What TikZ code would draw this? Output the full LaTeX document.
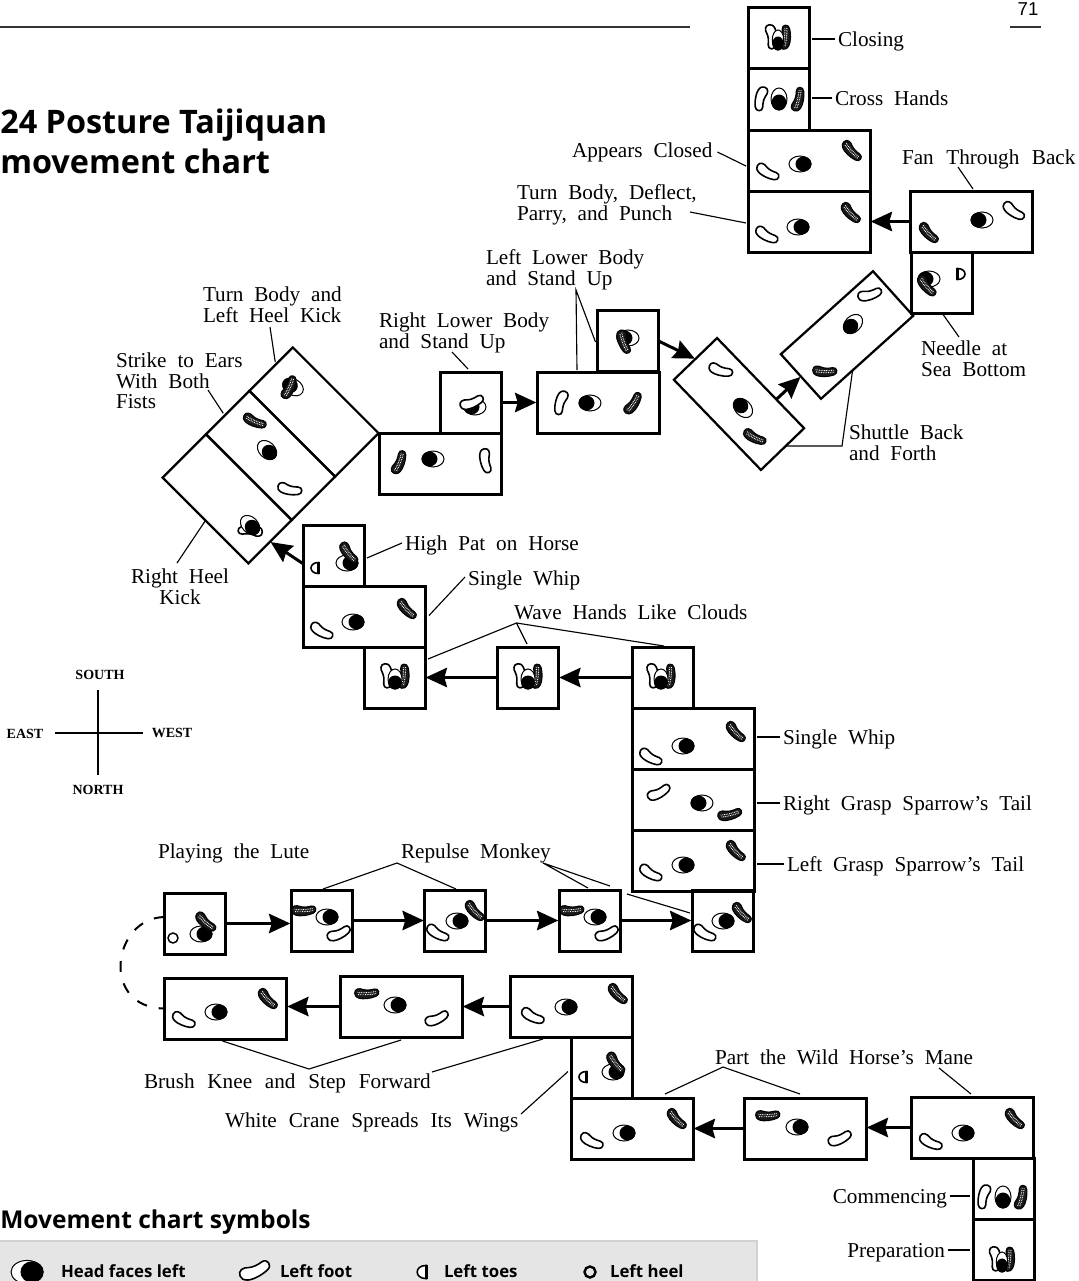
\documentclass[tikz,border=0pt]{standalone}
\usepackage{fontspec}
\setmainfont[WordSpace=2.05]{Liberation Serif}
\newfontfamily\bsans{Open Sans}
\newfontfamily\psans{Liberation Sans}
\usetikzlibrary{arrows.meta}
\def\footpath{(-12,-3) .. controls (-11,-7.5) and (-6,-7) .. (-3,-4.5) .. controls (0,-2.5) and (4,-2) .. (8,-2) .. controls (13,-2) and (13,5) .. (8,5.5) .. controls (2,6.5) and (-6,5) .. (-9,3) .. controls (-12,1) and (-12.5,-1) .. (-12,-3) -- cycle}
\tikzset{
  sqbox/.style={draw,line width=2.25pt,minimum size=45.75pt,inner sep=0pt,outer sep=0pt},
  recbox/.style={draw,line width=2.25pt,minimum width=91.5pt,minimum height=45.75pt,inner sep=0pt,outer sep=0pt},
  tilted/.style={draw,line width=1.7pt,minimum width=#1,minimum height=46pt,inner sep=0pt,outer sep=0pt},
  arr/.style={line width=2.25pt,-{Stealth[length=16pt,width=14.5pt,inset=2pt]},shorten >=.5pt},
  leader/.style={line width=.85pt},
  lbl/.style={inner sep=0pt,outer sep=0pt,font=\fontsize{15.9}{15.4}\selectfont,text height=12pt,text depth=1pt},
  mlbl/.style={inner sep=0pt,outer sep=0pt,font=\fontsize{15.9}{15.4}\selectfont,align=left},
  cmp/.style={inner sep=0pt,outer sep=0pt,font=\fontsize{10.5}{12}\selectfont\bfseries},
  leg/.style={inner sep=0pt,outer sep=0pt,font=\fontsize{12.6}{16}\bsans\bfseries\selectfont,anchor=west,text height=10pt,text depth=2pt},
  ttl/.style={inner sep=0pt,anchor=west,font=\fontsize{24.3}{30}\bsans\bfseries\selectfont,text height=22pt,text depth=3pt},
  hd/.pic={\draw[line width=.75pt,fill=white] (0,0) ellipse (11 and 8);
           \fill[black] (3.5,0) ellipse (8 and 7.4);},
  lft/.pic={\draw[line width=1.2pt,fill=white,line join=round] \footpath;},
  rft/.pic={\draw[line width=.8pt,fill=black!90,line join=round] \footpath;
            \draw[white,line width=.7pt,dash pattern=on .6pt off .7pt] (-9,-3) .. controls (-4,-1) and (3,.6) .. (9,.8);
            \draw[white,line width=.7pt,dash pattern=on .6pt off .7pt] (-9,-.8) .. controls (-4,1) and (3,2.6) .. (9,2.8);},
  toe/.pic={\draw[line width=1.2pt,fill=white] (-3.5,-5.5) .. controls (6.5,-5.5) and (6.5,5.5) .. (-3.5,5.5) -- cycle;
            \draw[line width=2pt] (-3.5,-6) -- (-3.5,6);},
  feetup/.pic={
     \pic[rotate=-96,yscale=-1] at (-8.5,-1) {lft};
     \pic[rotate=96] at (8.5,-1) {rft};
     \draw[line width=.75pt,fill=white] (0,2) ellipse (7 and 10);
     \fill[black] (0,5.5) ellipse (7 and 7);},
}
\newcommand\LF[3]{\pic[rotate=#3] at (#1,#2) {lft};}
\newcommand\RF[3]{\pic[rotate=#3] at (#1,#2) {rft};}
\newcommand\HD[3]{\pic[rotate=#3] at (#1,#2) {hd};}
\newcommand\TOE[3]{\pic[rotate=#3] at (#1,#2) {toe};}
\newcommand\TOG[3]{\pic[xscale=#3] at (#1,#2) {feetup};}
\begin{document}
\begin{tikzpicture}[x=.75pt,y=-.75pt]
\useasboundingbox (0,0) rectangle (1078,1281);
\clip (0,0) rectangle (1078,1281);
\fill[white] (0,0) rectangle (1078,1281);
% page furniture
\draw[line width=.8pt,black!80] (0,27) -- (690,27);
\draw[line width=.8pt,black!80] (1010,27) -- (1041,27);
\node[inner sep=0pt,font=\fontsize{14}{15}\psans\selectfont] (pageno) at (1028,9) {71};
\node[ttl] (title1) at (0,121) {24 Posture Taijiquan};
\node[ttl] (title2) at (0,161) {movement chart};
% legend
\node[inner sep=0pt,anchor=west,font=\fontsize{18.4}{20}\bsans\bfseries\selectfont,text height=16pt,text depth=2pt] (legtitle) at (0,1219) {Movement chart symbols};
\draw[line width=1.5pt,black!18,fill=black!10] (-5,1241) rectangle (757,1300);
\pic[scale=1.45] at (27,1272) {hd};
\pic[rotate=36,scale=1.3] at (255,1270) {lft};
\pic[rotate=180,scale=1.2] at (422,1272) {toe};
\draw[line width=1.8pt] (590,1272) circle (5.5);
\node[leg] (leg1) at (61,1272) {Head faces left};
\node[leg] (leg2) at (280,1272) {Left foot};
\node[leg] (leg3) at (444,1272) {Left toes};
\node[leg] (leg4) at (610,1272) {Left heel};
% compass
\node[cmp] (south) at (100,675) {SOUTH};
\node[cmp] (north) at (98,790) {NORTH};
\node[cmp] (east) at (25,734) {EAST};
\node[cmp] (west) at (172,733) {WEST};
\draw[line width=1.5pt] (98,690) -- (98,775);
\draw[line width=1.5pt] (55,733) -- (143,733);
% boxes
\node[sqbox] (bClosing) at (778.5,38.5) {};
\node[sqbox] (bCross) at (778.5,99.5) {};
\node[recbox] (bAppears) at (809,160.5) {};
\node[recbox] (bTurn) at (809,221.5) {};
\node[recbox] (bFan) at (971.5,221.5) {};
\node[sqbox] (bNeedle) at (942,282.5) {};
\node[tilted=93pt,minimum height=45pt,rotate=42] (bShuttleUp) at (847,335) {};
\node[tilted=94pt,minimum height=45pt,rotate=-46] (bShuttleLow) at (739,404) {};
\node[sqbox] (bLLsq) at (628,341) {};
\node[recbox] (bLLrect) at (598,402.5) {};
\node[sqbox] (bRLsq) at (471,402.5) {};
\node[recbox] (bRLrect) at (440.5,463.5) {};
\node[tilted=91pt,rotate=-45] (bDA) at (314,412) {};
\node[tilted=91pt,rotate=-45] (bDB) at (270.6,455.4) {};
\node[tilted=91pt,rotate=-45] (bDC) at (227.2,498.8) {};
\node[sqbox] (bHighPat) at (333.5,555.5) {};
\node[recbox] (bSW1) at (364,616.5) {};
\node[sqbox] (bWaveA) at (394.5,677.5) {};
\node[sqbox] (bWaveB) at (528,677.5) {};
\node[sqbox] (bWaveC) at (662.5,677.5) {};
\node[recbox] (bSW2) at (693,738.5) {};
\node[recbox] (bRG) at (693,799.5) {};
\node[recbox] (bLG) at (693,860.5) {};
\node[sqbox] (bRM4) at (722.5,921) {};
\node[sqbox] (bRM3) at (589.5,920.5) {};
\node[sqbox] (bRM2) at (455,920.5) {};
\node[sqbox] (bRM1) at (321.5,920.5) {};
\node[sqbox] (bLute) at (195,923.5) {};
\node[recbox] (bBK1) at (225.5,1008.5) {};
\node[recbox] (bBK2) at (401,1006.5) {};
\node[recbox] (bBK3) at (571,1006.5) {};
\node[sqbox] (bWC) at (601.5,1067.5) {};
\node[recbox] (bPW1) at (632,1128.5) {};
\node[recbox] (bPW2) at (805,1128.5) {};
\node[recbox] (bPW3) at (972,1127.5) {};
\node[sqbox] (bComm) at (1003.5,1188.5) {};
\node[sqbox] (bPrep) at (1003.5,1249.5) {};
% symbols
\TOG{778}{38}{.82}
\LF{761}{99}{-92}\HD{779}{99}{-90}\RF{798}{99}{88}
\LF{768}{172}{-18}\HD{800}{164}{0}\RF{852}{151}{-35}
\LF{767}{235}{-18}\HD{798}{227}{0}\RF{851}{213}{-35}
\HD{982}{220}{180}\LF{1014}{211}{-24}\RF{929}{233}{-35}
\HD{929}{279}{180}\RF{927}{286}{-38}\TOE{961}{274}{0}
\LF{870}{294}{28}\HD{853}{324}{225}\RF{825}{371}{10}
\LF{721}{370}{-5}\HD{743}{408}{135}\RF{755}{437}{-15}
\HD{628}{338}{180}\RF{624}{342}{-58}
\LF{561}{403}{-95}\HD{590}{403}{180}\RF{633}{403}{68}
\HD{475}{407}{180}\LF{472}{402}{33}
\RF{399}{462}{80}\HD{433}{459}{180}\LF{486}{461}{-68}
\HD{293}{387}{150}\RF{289}{387}{78}
\RF{255}{421}{-12}\HD{267}{450}{-45}\LF{290}{489}{0}
\LF{250}{531}{-172}\HD{250}{525}{-45}
\TOE{315}{568}{180}\HD{347}{563}{0}\RF{349}{553}{-40}
\LF{322}{631}{-18}\HD{353}{622}{0}\RF{407}{609}{-35}
\TOG{395}{677}{1}
\TOG{528}{677}{1}
\TOG{661}{677}{1}
\LF{651}{757}{-18}\HD{683}{746}{0}\RF{736}{732}{-35}
\LF{659}{792}{40}\HD{702}{803}{180}\RF{730}{814}{25}
\LF{651}{873}{-18}\HD{683}{865}{0}\RF{736}{851}{-35}
\LF{705}{933}{-18}\HD{723}{921}{0}\RF{742}{913}{-35}
\RF{572}{910}{15}\HD{595}{917}{0}\LF{607}{933}{36}
\LF{438}{933}{-18}\HD{457}{921}{0}\RF{475}{911}{-35}
\RF{304}{910}{15}\HD{327}{917}{0}\LF{339}{933}{36}
\draw[line width=1.1pt] (173,938) circle (5);
\HD{201}{934}{0}\RF{206}{922}{-30}
\LF{184}{1020}{-15}\HD{216}{1012}{0}\RF{268}{999}{-35}
\RF{367}{993}{15}\HD{395}{1005}{0}\LF{437}{1018}{36}
\LF{533}{1016}{-15}\HD{566}{1007}{0}\RF{618}{994}{-35}
\TOE{583}{1077}{180}\HD{613}{1072}{0}\RF{616}{1063}{-40}
\LF{592}{1141}{-15}\HD{624}{1133}{0}\RF{677}{1119}{-35}
\RF{768}{1115}{15}\HD{797}{1127}{0}\LF{840}{1138}{36}
\LF{931}{1142}{-15}\HD{963}{1133}{0}\RF{1015}{1119}{-35}
\LF{984}{1197}{-92}\HD{1003}{1197}{-90}\RF{1021}{1197}{88}
\TOG{1002}{1260}{.82}
% labels
\node[lbl,anchor=west] (tClosing) at (838,39) {Closing};
\node[lbl,anchor=west] (tCross) at (835,98) {Cross Hands};
\node[lbl,anchor=west] (tAppears) at (572,150) {Appears Closed};
\node[mlbl,anchor=north west] (tTurn) at (517,185) {Turn Body, Deflect,\\Parry, and Punch};
\node[lbl,anchor=west] (tFan) at (902,157) {\spaceskip=9.4pt Fan Through Back};
\node[mlbl,anchor=north west] (tNeedle) at (921,341) {Needle at\\Sea Bottom};
\node[mlbl,anchor=north west] (tShuttle) at (849,425) {Shuttle Back\\and Forth};
\node[mlbl,anchor=north west] (tLL) at (486,250) {Left Lower Body\\and Stand Up};
\node[mlbl,anchor=north west] (tRL) at (379,313) {Right Lower Body\\and Stand Up};
\node[mlbl,anchor=north west] (tTH) at (203,287) {Turn Body and\\Left Heel Kick};
\node[mlbl,anchor=north west] (tStrike) at (116,353) {Strike to Ears\\With Both\\Fists};
\node[mlbl,align=center,anchor=north] (tRHK) at (180,569) {Right Heel\\Kick};
\node[lbl,anchor=west] (tHP) at (405,543) {High Pat on Horse};
\node[lbl,anchor=west] (tSW1) at (468,578) {Single Whip};
\node[lbl,anchor=west] (tWave) at (514,612) {Wave Hands Like Clouds};
\node[lbl,anchor=west] (tSW2) at (783,737) {Single Whip};
\node[lbl,anchor=west] (tRG) at (783,803) {Right Grasp Sparrow's Tail};
\node[lbl,anchor=west] (tLG) at (787,864) {Left Grasp Sparrow's Tail};
\node[lbl,anchor=west] (tLute) at (158,851) {Playing the Lute};
\node[lbl,anchor=west] (tRM) at (401,851) {Repulse Monkey};
\node[lbl,anchor=west] (tBK) at (144,1081) {\spaceskip=9.6pt Brush Knee and Step Forward};
\node[lbl,anchor=west] (tWC) at (225,1120) {\spaceskip=9pt White Crane Spreads Its Wings};
\node[lbl,anchor=west] (tPW) at (715,1057) {Part the Wild Horse's Mane};
\node[lbl,anchor=east] (tComm) at (947,1196) {Commencing};
\node[lbl,anchor=east] (tPrep) at (945,1250) {Preparation};
% free ends of leaders
\coordinate (lTurn) at (690,212);
\coordinate (lFan) at (958,167);
\coordinate (lNeedle) at (959,337);
\coordinate (lShuttle) at (842,446);
\coordinate (lLL) at (576,290);
\coordinate (lRL) at (452,352);
\coordinate (lTH) at (270,327);
\coordinate (lStrike) at (208,390);
\coordinate (lRHK) at (177,563);
\coordinate (lWave) at (516.5,623);
\coordinate (lRMa) at (397,863);
\coordinate (lRMb) at (543,863);
\coordinate (lRMc) at (610,886);
\coordinate (lRMd) at (627,894);
\coordinate (lBK) at (309,1069);
\coordinate (lBKb) at (432,1072);
\coordinate (lWC) at (521,1114);
\coordinate (lPW) at (723,1067);
\coordinate (lPWb) at (939,1068);
% leaders
\draw[leader,shorten <=2pt,shorten >=2pt] (tClosing.west) -- (tClosing.west -| bClosing.east);
\draw[leader,shorten <=2pt,shorten >=2pt] (tCross.west) -- (tCross.west -| bCross.east);
\draw[leader] ([shift={(5,2)}]tAppears.east) -- ([shift={(-2,5.5)}]bAppears.west);
\draw[leader] (lTurn) -- ([shift={(-2,1.5)}]bTurn.west);
\draw[leader] (lFan) -- ([shift={(1.5,-2)}]bFan.north);
\draw[leader] (bNeedle.south) -- (lNeedle);
\draw[leader] (bShuttleUp.237) -- (lShuttle) -- (bShuttleLow.4);
\draw[leader] ([shift={(-2,1)}]bLLsq.west) -- (lLL) -- ([shift={(-21,-2)}]bLLrect.north);
\draw[leader] (lRL) -- ([shift={(-3,-3)}]bRLsq.north);
\draw[leader,shorten >=2pt] (lTH) -- (bDA.174);
\draw[leader,shorten >=2pt] (lStrike) -- (bDB.184);
\draw[leader] (lRHK) -- (bDC.south);
\draw[leader] ([shift={(-3,0)}]tHP.west) -- ([shift={(3,2.5)}]bHighPat.east);
\draw[leader] ([shift={(-3,-1)}]tSW1.west) -- ([shift={(4,-1)}]bSW1.east);
\draw[leader] ([shift={(3,-18.5)}]bWaveA.east) -- (lWave) -- ([shift={(-1,-3)}]bWaveB.north);
\draw[leader] (lWave) -- ([shift={(1.5,-1)}]bWaveC.north);
\draw[leader,shorten <=2pt,shorten >=2pt] (tSW2.west) -- (tSW2.west -| bSW2.east);
\draw[leader,shorten <=2pt,shorten >=2pt] (tRG.west) -- (tRG.west -| bRG.east);
\draw[leader,shorten <=2pt,shorten >=2pt] (tLG.west) -- (tLG.west -| bLG.east);
\draw[leader] ([shift={(1.5,-1)}]bRM1.north) -- (lRMa) -- ([shift={(1,-1)}]bRM2.north);
\draw[leader] ([shift={(-1.5,-2)}]bRM3.north) -- (lRMb) -- (lRMc);
\draw[leader] (lRMd) -- ([shift={(-2,-8)}]bRM4.west);
\draw[leader] ([shift={(-3,2)}]bBK1.south) -- (lBK) -- ([shift={(0,3)}]bBK2.south);
\draw[leader] (lBKb) -- ([shift={(-28,2)}]bBK3.south);
\draw[leader] (lWC) -- ([shift={(-3,4)}]bWC.west);
\draw[leader] ([shift={(33,-4)}]bPW1.north) -- (lPW) -- ([shift={(-5,-4)}]bPW2.north);
\draw[leader] (lPWb) -- ([shift={(-1,-3)}]bPW3.north);
\draw[leader,shorten <=2pt,shorten >=2pt] (tComm.east) -- (tComm.east -| bComm.west);
\draw[leader,shorten <=2pt,shorten >=2pt] (tPrep.east) -- (tPrep.east -| bPrep.west);
% arrows
\draw[arr] (bFan.west) -- (bTurn.east);
\draw[arr] (bShuttleLow.53) -- (bShuttleUp.west);
\draw[arr] (bLLsq.east) -- (bShuttleLow.west);
\draw[arr] (bRLsq.east) -- (bLLrect.west);
\draw[arr] (bHighPat.195) -- (bDC.east);
\draw[arr] (bWaveB.west) -- (bWaveA.east);
\draw[arr] (bWaveC.west) -- (bWaveB.east);
\draw[arr] (bLute.east) -- (bLute.east -| bRM1.west);
\draw[arr] (bRM1.east) -- (bRM2.west);
\draw[arr] (bRM2.east) -- (bRM3.west);
\draw[arr] (bRM3.east) -- (bRM3.east -| bRM4.west);
\draw[arr] (bBK3.west) -- (bBK2.east);
\draw[arr] (bBK2.west) -- (bBK2.west -| bBK1.east);
\draw[arr] (bPW3.west) -- (bPW3.west -| bPW2.east);
\draw[arr] (bPW2.west) -- (bPW1.east);
\draw[line width=1.5pt,dash pattern=on 8pt off 9pt] ([shift={(0,-6.5)}]bLute.west) .. controls (112,918) and (100,1008) .. (bBK1.west);
\end{tikzpicture}
\end{document}
